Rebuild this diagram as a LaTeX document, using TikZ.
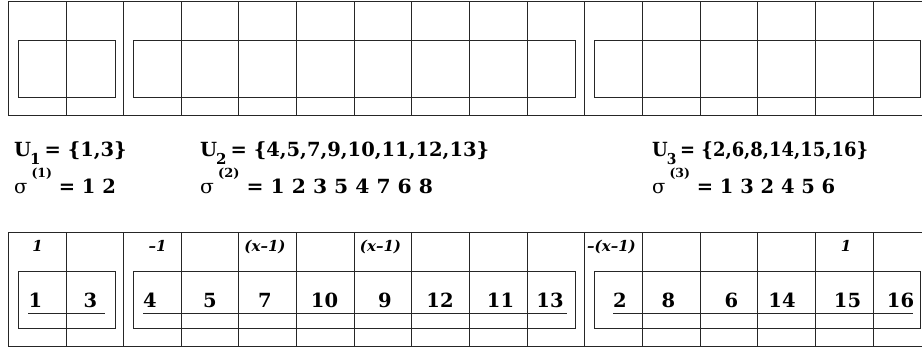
\documentclass[tikz,border=0pt]{standalone}
\usepackage{fontspec}
\setmainfont{DejaVu Serif}
\begin{document}
\begin{tikzpicture}[x=1pt,y=-1pt,
  grid/.style={line width=0.85pt, draw=black!85},
  num/.style={font=\fontsize{19.5}{24}\selectfont\bfseries, inner sep=0pt, anchor=base},
  coef/.style={font=\fontsize{15}{18}\selectfont\bfseries\itshape, inner sep=0pt, anchor=base},
  lab/.style={font=\fontsize{19.5}{24}\selectfont\bfseries, inner sep=0pt, anchor=base west}]
\useasboundingbox (0,0) rectangle (922,347);
% two tables
\foreach \t in {0,231}{
  \draw[grid] (8.3,1.5+\t) -- (935,1.5+\t);
  \draw[grid] (8.3,115.8+\t) -- (935,115.8+\t);
  \foreach \k in {0,...,15}{
    \draw[grid] ({8.3+57.65*\k},1.5+\t) -- ({8.3+57.65*\k},115.8+\t);
  }
  \draw[grid] (18,40+\t) rectangle (115,97+\t);
  \draw[grid] (133,40+\t) rectangle (575,97+\t);
  \draw[grid] (594,40+\t) rectangle (920.7,97+\t);
}
% labels between tables
\newcommand{\subU}[1]{U\kern-1pt\raisebox{-8pt}{\fontsize{15}{15}\selectfont #1}\hspace{4pt}}
\newcommand{\sigsup}[1]{{\mdseries σ}\hspace{4pt}\raisebox{16pt}{\fontsize{12.5}{13}\selectfont (#1)}}
\node[lab] (u1) at (14,156.5) {\subU{1}= \{1,3\}};
\node[lab] (s1) at (14,194) {\sigsup{1} = 1 2};
\node[lab] (u2) at (200,156.5) {\subU{2}= \{4,5,7,9,10,11,12,13\}};
\node[lab] (s2) at (200,194) {\scalebox{1.04}[1]{\sigsup{2} = 1 2 3 5 4 7 6 8}};
\node[lab] (u3) at (652,156.5) {\scalebox{0.92}[1]{\subU{3}= \{2,6,8,14,15,16\}}};
\node[lab] (s3) at (652,194) {\sigsup{3} = 1 3 2 4 5 6};
% coefficients
\node[coef] (c1) at (37.5,252) {1};
\node[coef] (c3) at (157.5,252) {–1};
\node[coef] (c5) at (265,252) {(x–1)};
\node[coef] (c7) at (380.5,252) {(x–1)};
\node[coef] (c11) at (611.5,252) {–(x–1)};
\node[coef] (c15) at (846,252) {1};
% numbers
\foreach \v/\x in {1/35.5, 3/90.5, 4/150, 5/210, 7/265, 10/324.5, 9/385, 12/440, 11/500.5, 13/550, 2/620, 8/668.5, 6/731.5, 14/782, 15/847.5, 16/900.5}{
  \node[num] (n\v) at (\x,307.5) {\v};
}
% underlines
\draw[grid] (28,313) -- (105,313);
\draw[grid] (143,313) -- (567,313);
\draw[grid] (613,313) -- (913,313);
\end{tikzpicture}
\end{document}
